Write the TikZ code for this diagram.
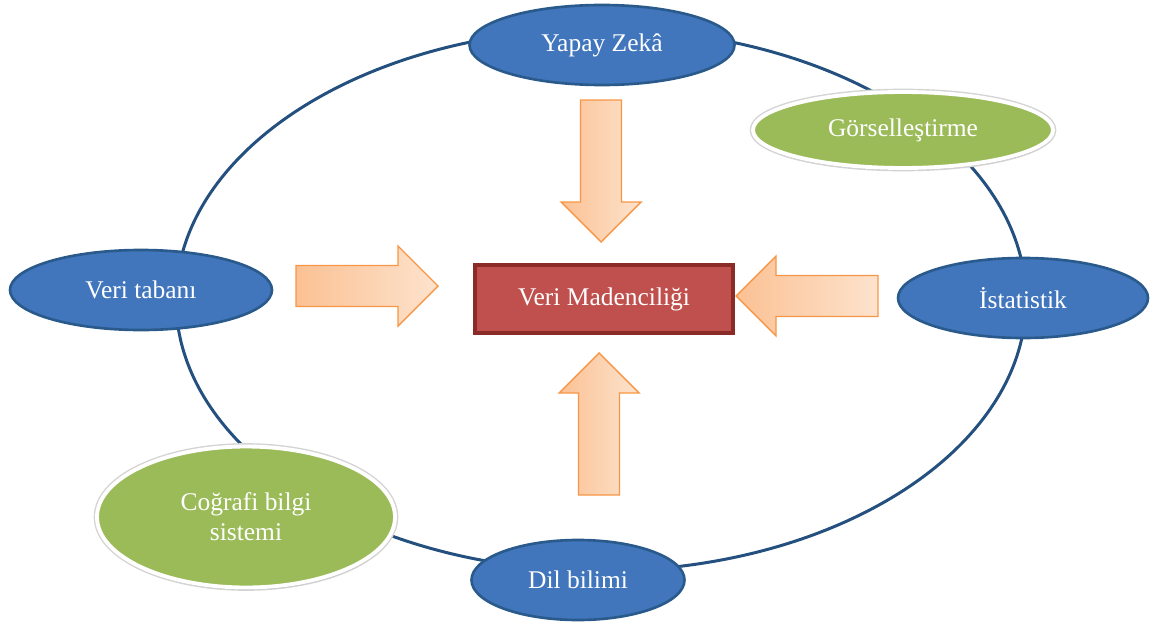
\documentclass[tikz,border=0pt]{standalone}
\usepackage{fontspec}
\setmainfont{Liberation Serif}
\usepackage{xcolor}
\usetikzlibrary{shapes.geometric,shadows}
\definecolor{ringblue}{HTML}{24507F}
\definecolor{ovblue}{HTML}{4176BD}
\definecolor{ovedge}{HTML}{2A5A8C}
\definecolor{ovgreen}{HTML}{9BBB59}
\definecolor{boxred}{HTML}{C0504D}
\definecolor{boxedge}{HTML}{8B2B28}
\definecolor{arredge}{HTML}{F79646}
\definecolor{arrA}{HTML}{FBC194}
\definecolor{arrB}{HTML}{FDE3CD}
\tikzstyle{blueov}=[ellipse,inner sep=0pt,fill=ovblue,draw=ovedge,line width=1.5pt,minimum height=1.6cm]
\tikzstyle{greenov}=[ellipse,inner sep=0pt,fill=ovgreen,draw=white,line width=2.2pt,
  preaction={draw=black!17,line width=3.8pt},
  drop shadow={shadow xshift=0.4pt,shadow yshift=-1.2pt,opacity=0.3}]
\tikzstyle{bigarr}=[draw=arredge,line width=0.8pt,left color=arrA,right color=arrB,line join=miter]

\begin{document}
\begin{tikzpicture}[text=white,font=\fontsize{14.5}{17}\selectfont]
\useasboundingbox (0,0) rectangle (23.16,-12.5);
\def\barr{(0,-0.41) -- (2.04,-0.41) -- (2.04,-0.8) -- (2.84,0) -- (2.04,0.8) -- (2.04,0.41) -- (0,0.41) -- cycle}
\coordinate (mid) at (12.02,-6.0);
\draw[ringblue,line width=1.7pt] (mid) ellipse (8.5 and 5.42);
\node[blueov,minimum width=5.3cm] (yz) at (12.04,-0.9) {Yapay Zekâ};
\node[greenov,minimum width=6.0cm,minimum height=1.52cm] (gr) at (18.06,-2.6) {Görselleştirme};
\node[blueov,minimum width=5cm] (ist) at (20.46,-5.96) {İstatistik};
\node[blueov,minimum width=5.24cm] (vt) at (2.82,-5.8) {Veri tabanı};
\node[greenov,minimum width=5.96cm,minimum height=2.82cm,align=center] (cbs) at (4.92,-10.34) {Coğrafi bilgi\\sistemi};
\node[blueov,minimum width=4.26cm] (db) at (11.56,-11.6) {Dil bilimi};
\node[rectangle,fill=boxred,draw=boxedge,line width=2pt,minimum width=5.16cm,minimum height=1.36cm] (vm) at (12.08,-5.98) {Veri Madenciliği};
% block arrows into the box
\draw[bigarr,shift={(5.92,-5.72)}] \barr;
\draw[bigarr,shift={(17.56,-5.92)},rotate=180] \barr;
\draw[bigarr,shift={(12.02,-2.0)},rotate=-90] \barr;
\draw[bigarr,shift={(11.98,-9.9)},rotate=90] \barr;
\end{tikzpicture}
\end{document}
